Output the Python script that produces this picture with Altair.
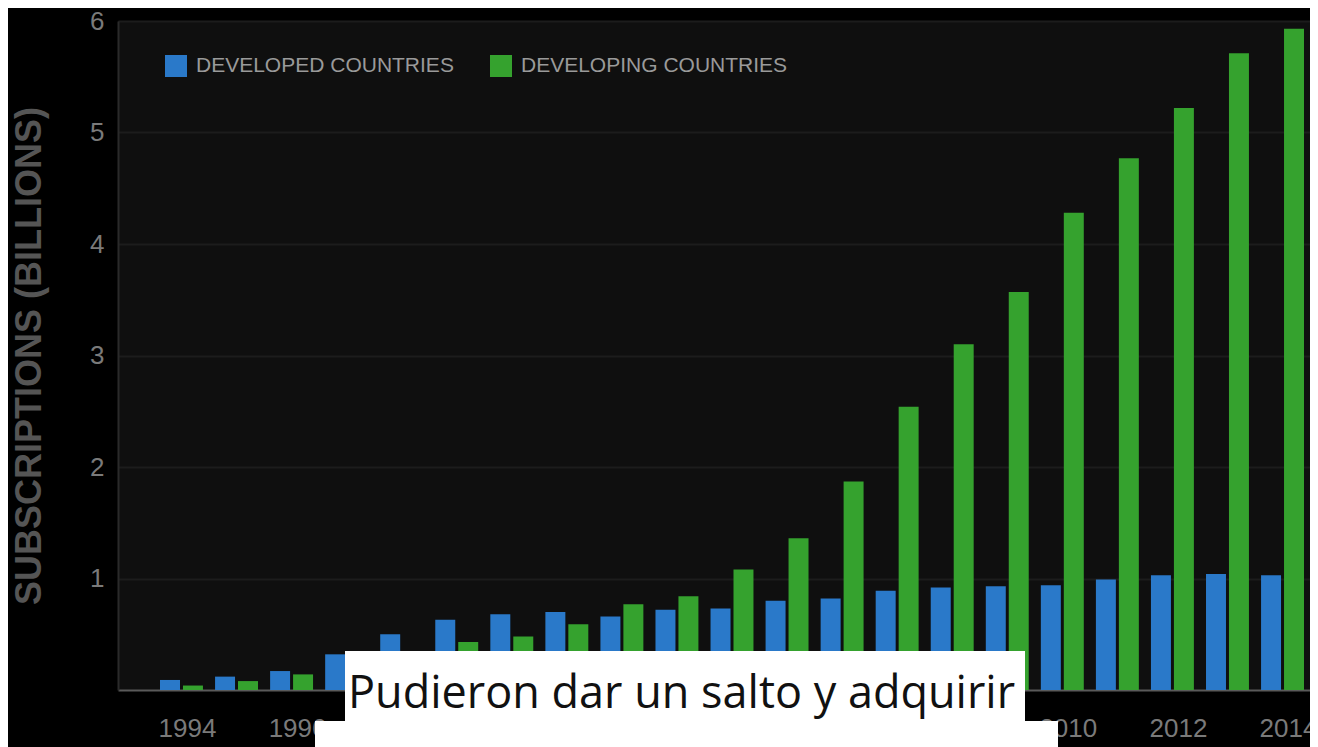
import altair as alt
import pandas as pd

years = list(range(1994, 2015))
developed = [0.09, 0.12, 0.17, 0.32, 0.50, 0.63, 0.68, 0.70, 0.66, 0.72, 0.73, 0.80,
             0.82, 0.89, 0.92, 0.93, 0.94, 0.99, 1.03, 1.04, 1.03]
developing = [0.04, 0.08, 0.14, 0.22, 0.32, 0.43, 0.48, 0.59, 0.77, 0.84, 1.08, 1.36,
              1.87, 2.54, 3.10, 3.57, 4.28, 4.77, 5.22, 5.71, 5.93]
series_names = ["DEVELOPED COUNTRIES", "DEVELOPING COUNTRIES"]
series_colors = ["#2a79c9", "#35a22e"]
x_tick_years = list(range(1994, 2015, 2))
y_ticks = [1, 2, 3, 4, 5, 6]
caption = ["Pudieron dar un salto y adquirir"]

rows = []
for i, y in enumerate(years):
    rows.append({"year": y, "series": series_names[0], "value": developed[i]})
    rows.append({"year": y, "series": series_names[1], "value": developing[i]})
df = pd.DataFrame(rows)

FONT = "Liberation Sans Narrow, Liberation Sans, sans-serif"

bars = alt.Chart(df).mark_bar().encode(
    x=alt.X("year:O",
            scale=alt.Scale(paddingInner=0.22, paddingOuter=0.436, align=0.875),
            axis=alt.Axis(values=x_tick_years, title=None, labelAngle=0,
                          labelFontSize=26, labelColor="#7a7a7a", labelFont=FONT,
                          labelPadding=25, labelOffset=6, ticks=False,
                          domainColor="#5a5a5a", domainWidth=2, grid=False)),
    xOffset=alt.XOffset("series:N", scale=alt.Scale(paddingInner=0.13),
                        sort=series_names),
    y=alt.Y("value:Q", scale=alt.Scale(domain=[0, 6], nice=False),
            axis=alt.Axis(values=y_ticks, title="SUBSCRIPTIONS (BILLIONS)",
                          titleFont="Liberation Sans, sans-serif", titleFontSize=36,
                          titleFontWeight="bold", titleColor="#555555",
                          titlePadding=41,
                          labelFontSize=26, labelColor="#7a7a7a", labelFont=FONT,
                          labelPadding=14, ticks=False,
                          domainColor="#2a2a2a", domainWidth=2,
                          gridColor="#1c1c1c", gridWidth=2)),
    color=alt.Color("series:N",
                    scale=alt.Scale(domain=series_names, range=series_colors),
                    legend=alt.Legend(title=None, orient="none", legendX=47, legendY=34,
                                      direction="horizontal", symbolType="square",
                                      symbolSize=484, symbolStrokeWidth=0,
                                      labelFont=FONT, labelFontSize=21, labelLimit=500,
                                      labelColor="#9a9a9a", labelOffset=9,
                                      columnPadding=36)),
)

cap_df = pd.DataFrame({"t": caption})
box1 = alt.Chart(cap_df).mark_rect(color="white").encode(
    x=alt.value(227), x2=alt.value(907), y=alt.value(630), y2=alt.value(701))
box2 = alt.Chart(cap_df).mark_rect(color="white").encode(
    x=alt.value(197), x2=alt.value(940), y=alt.value(700), y2=alt.value(740))
cap_text = alt.Chart(cap_df).mark_text(
    align="left", baseline="alphabetic", font="Open Sans, sans-serif",
    fontSize=45, color="#111111").encode(
    x=alt.value(230), y=alt.value(687), text="t:N")

chart = alt.layer(bars, box1, box2, cap_text).properties(
    width=1192, height=669,
    autosize=alt.AutoSizeParams(type="none"),
    padding={"left": 110, "top": 13, "right": 0, "bottom": 57},
    background="#000000",
).configure_view(fill="#0f0f0f", stroke=None)

chart.save("out.html", embed_options={"renderer": "svg", "actions": False})
